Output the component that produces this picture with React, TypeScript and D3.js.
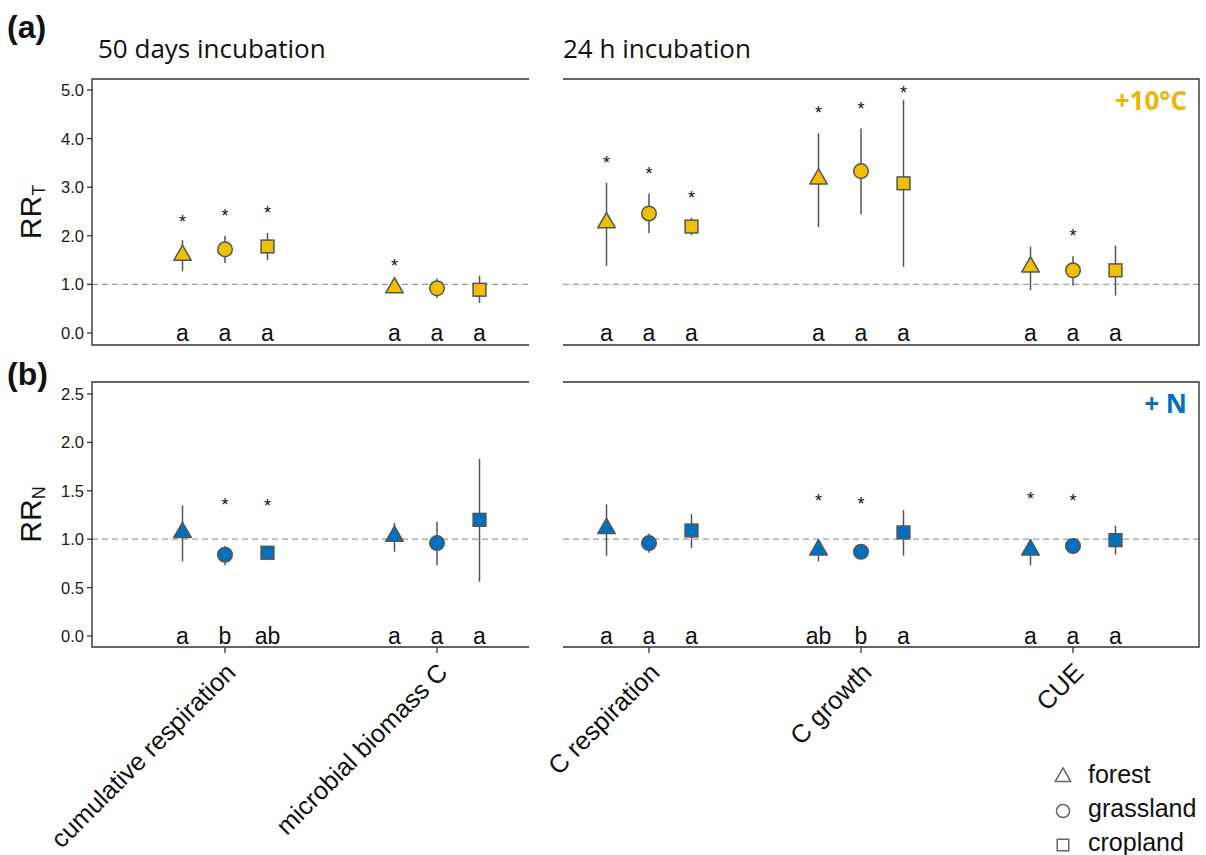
import React from "react";
import * as d3 from "d3";

// ---------- data ----------
const categories = ["cumulative respiration", "microbial biomass C", "C respiration", "C growth", "CUE"];
const landUses = ["forest", "grassland", "cropland"];
const incubationTitles = ["50 days incubation", "24 h incubation"];

// RR_T (+10°C)
const rrTMean = [[1.6, 1.72, 1.78], [0.93, 0.92, 0.89], [2.27, 2.46, 2.19], [3.17, 3.33, 3.08], [1.36, 1.29, 1.29]];
const rrTLow = [[1.27, 1.44, 1.5], [0.86, 0.72, 0.62], [1.38, 2.06, 2.01], [2.18, 2.44, 1.36], [0.88, 0.97, 0.77]];
const rrTHigh = [[1.91, 2.0, 2.06], [1.0, 1.12, 1.18], [3.09, 2.87, 2.37], [4.11, 4.21, 4.79], [1.78, 1.58, 1.8]];
const rrTStar = [[2.37, 2.49, 2.55], [1.46, null, null], [3.58, 3.35, 2.86], [4.6, 4.7, 5.03], [null, 2.08, null]];
const rrTLetters = [["a", "a", "a"], ["a", "a", "a"], ["a", "a", "a"], ["a", "a", "a"], ["a", "a", "a"]];
const rrTTicks = [0, 1, 2, 3, 4, 5];

// RR_N (+N)
const rrNMean = [[1.07, 0.84, 0.86], [1.03, 0.96, 1.2], [1.11, 0.96, 1.09], [0.89, 0.87, 1.07], [0.89, 0.93, 0.99]];
const rrNLow = [[0.77, 0.73, 0.8], [0.87, 0.73, 0.56], [0.83, 0.86, 0.91], [0.77, 0.83, 0.83], [0.73, 0.9, 0.84]];
const rrNHigh = [[1.35, 0.93, 0.92], [1.17, 1.18, 1.83], [1.36, 1.06, 1.26], [0.98, 0.9, 1.3], [1.0, 0.96, 1.14]];
const rrNStar = [[null, 1.39, 1.38], [null, null, null], [null, null, null], [1.44, 1.4, null], [1.46, 1.44, null]];
const rrNLetters = [["a", "b", "ab"], ["a", "a", "a"], ["a", "a", "a"], ["ab", "b", "a"], ["a", "a", "a"]];
const rrNTicks = [0, 0.5, 1, 1.5, 2, 2.5];

// ---------- style ----------
const YELLOW = "#EFBF00";
const YELLOW_TXT = "#EBB700";
const BLUE = "#0070C0";
const EDGE = "#555555";
const FRAME = "#333333";
const SANS = "'Liberation Sans', Arial, sans-serif";
const OPEN = "'Open Sans', sans-serif";

const W = 1206;
const H = 855;

const xCat = d3.scalePoint<string>().domain(categories).range([225, 1073]);
const xOff = d3.scalePoint<string>().domain(landUses).range([-42.5, 42.5]);

const leftPanel = [92, 529];
const rightPanel = [563, 1199];

function Marker({ kind, x, y, fill, stroke, scale = 1 }: { kind: number; x: number; y: number; fill: string; stroke: string; scale?: number }) {
  if (kind === 0) {
    const s = 17.5 * scale;
    const h = s * 0.866;
    const pts = [
      [x, y - (2 * h) / 3],
      [x - s / 2, y + h / 3],
      [x + s / 2, y + h / 3],
    ];
    return <polygon points={pts.map((p) => p.join(",")).join(" ")} fill={fill} stroke={stroke} strokeWidth={1.5} strokeLinejoin="round" />;
  }
  if (kind === 1) {
    return <circle cx={x} cy={y} r={7.3 * scale} fill={fill} stroke={stroke} strokeWidth={1.5} />;
  }
  const s = 12.8 * scale;
  return <rect x={x - s / 2} y={y - s / 2} width={s} height={s} fill={fill} stroke={stroke} strokeWidth={1.5} />;
}

function Panel({
  top, bottom, domainMax, ticks, mean, low, high, star, letters, fill, tag, tagY, tagColor, tagText, yTitleSub, showXAxis, y0, yMaxPx,
}: any) {
  const y = d3.scaleLinear().domain([0, domainMax]).range([y0, yMaxPx]);
  const fmt = d3.format(".1f");
  const frameLeft = `M${leftPanel[1]},${top} H${leftPanel[0]} V${bottom} H${leftPanel[1]}`;
  const frameRight = `M${rightPanel[0]},${top} H${rightPanel[1]} V${bottom} H${rightPanel[0]}`;
  const yMid = (top + bottom) / 2;
  return (
    <g>
      {/* reference line */}
      <line x1={leftPanel[0]} x2={leftPanel[1]} y1={y(1)} y2={y(1)} stroke="#9a9a9a" strokeWidth={1.3} strokeDasharray="6,4" />
      <line x1={rightPanel[0]} x2={rightPanel[1]} y1={y(1)} y2={y(1)} stroke="#9a9a9a" strokeWidth={1.3} strokeDasharray="6,4" />
      <path d={frameLeft} fill="none" stroke={FRAME} strokeWidth={1.4} />
      <path d={frameRight} fill="none" stroke={FRAME} strokeWidth={1.4} />
      {/* y axis */}
      {ticks.map((t: number) => (
        <g key={t}>
          <line x1={leftPanel[0] - 5} x2={leftPanel[0]} y1={y(t)} y2={y(t)} stroke={FRAME} strokeWidth={1.3} />
          <text x={leftPanel[0] - 8} y={y(t) + 6} textAnchor="end" fontFamily={SANS} fontSize={16.5} fill="#1a1a1a">
            {fmt(t)}
          </text>
        </g>
      ))}
      <text transform={`translate(41,${yMid}) rotate(-90)`} textAnchor="middle" fontFamily={SANS} fontSize={30} fill="#111">
        RR<tspan fontSize={18} dy={4}>{yTitleSub}</tspan>
      </text>
      {/* x ticks */}
      {showXAxis &&
        categories.map((c) => (
          <line key={c} x1={xCat(c)} x2={xCat(c)} y1={bottom} y2={bottom + 6} stroke={FRAME} strokeWidth={1.3} />
        ))}
      {/* data */}
      {categories.map((c, i) =>
        landUses.map((l, j) => {
          const x = (xCat(c) as number) + (xOff(l) as number);
          return (
            <g key={c + l}>
              <line x1={x} x2={x} y1={y(low[i][j])} y2={y(high[i][j])} stroke={EDGE} strokeWidth={1.5} />
              <Marker kind={j} x={x} y={y(mean[i][j])} fill={fill} stroke={EDGE} />
              {star[i][j] != null && (
                <text x={x} y={y(star[i][j]) + 10} textAnchor="middle" fontFamily={SANS} fontSize={18} fill="#111">
                  *
                </text>
              )}
              <text x={x} y={y(0) + 8} textAnchor="middle" fontFamily={SANS} fontSize={23} fill="#111">
                {letters[i][j]}
              </text>
            </g>
          );
        })
      )}
      {/* tag */}
      <text x={7} y={tagY} fontFamily={SANS} fontWeight="bold" fontSize={32} fill="#111">
        {tag}
      </text>
      <text x={1187} y={top + 31} textAnchor="end" fontFamily={OPEN} fontWeight="bold" fontSize={26} fill={tagColor}>
        {tagText}
      </text>
    </g>
  );
}

export default function App() {
  return (
    <svg width={W} height={H} style={{ display: "block", position: "absolute", left: 0, top: 0, background: "#fff" }}>
      <rect x={0} y={0} width={W} height={H} fill="#fff" />
      <text x={98} y={58} fontFamily={OPEN} fontSize={26} fill="#111">{incubationTitles[0]}</text>
      <text x={563} y={58} fontFamily={OPEN} fontSize={26} fill="#111">{incubationTitles[1]}</text>
      <Panel
        top={79} bottom={345} domainMax={5} ticks={rrTTicks} y0={333} yMaxPx={90}
        mean={rrTMean} low={rrTLow} high={rrTHigh} star={rrTStar} letters={rrTLetters}
        fill={YELLOW} tag="(a)" tagY={38} tagColor={YELLOW_TXT} tagText="+10°C" yTitleSub="T" showXAxis={false}
      />
      <Panel
        top={382} bottom={647} domainMax={2.5} ticks={rrNTicks} y0={636} yMaxPx={394}
        mean={rrNMean} low={rrNLow} high={rrNHigh} star={rrNStar} letters={rrNLetters}
        fill={BLUE} tag="(b)" tagY={385} tagColor={BLUE} tagText="+ N" yTitleSub="N" showXAxis={true}
      />
      {/* x labels */}
      {categories.map((c) => (
        <text key={c} transform={`translate(${(xCat(c) as number) + 12},674) rotate(-45)`} textAnchor="end" fontFamily={SANS} fontSize={25.5} fill="#111">
          {c}
        </text>
      ))}
      {/* legend */}
      {landUses.map((l, j) => {
        const ly = 777 + j * 34;
        return (
          <g key={l}>
            <Marker kind={j} x={1063} y={ly} fill="none" stroke="#666" scale={0.9} />
            <text x={1088} y={ly + 6} fontFamily={SANS} fontSize={25} fill="#111">{l}</text>
          </g>
        );
      })}
    </svg>
  );
}
